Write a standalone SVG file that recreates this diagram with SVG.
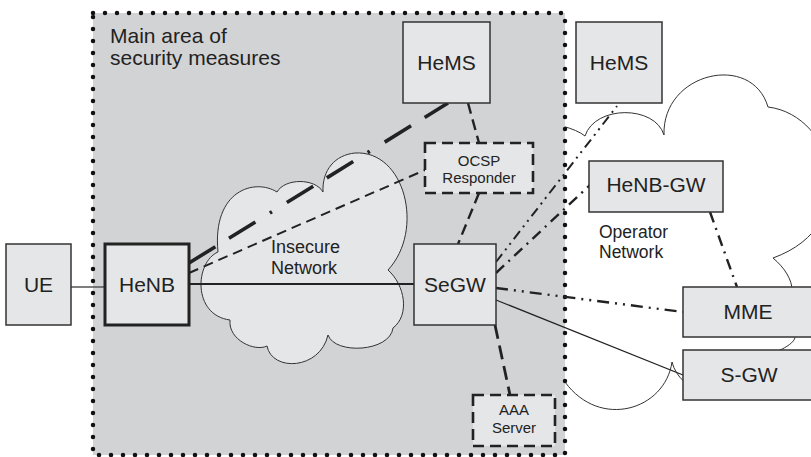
<svg xmlns="http://www.w3.org/2000/svg" width="811" height="457" viewBox="0 0 811 457">
<style>
text{font-family:"Liberation Sans",Arial,sans-serif;fill:#222}
.box{fill:#e5e6e7;stroke:#333;stroke-width:1.5}
.dbox{fill:#e5e6e7;stroke:#222;stroke-width:2.6;stroke-dasharray:11 6}
.lbl{font-size:21px;text-anchor:middle}
.sm{font-size:15px;text-anchor:middle}
.cloud{stroke:#333;stroke-width:1;stroke-linejoin:round}
.c{fill:none;stroke:#222}
</style>
<!-- operator network cloud (behind) -->
<path class="cloud" fill="#fff" d="M540,125 C552,122 575,128 585,136 C595,105 655,105 664,135 C662,72 752,52 768,107 C835,115 865,225 773,258 C785,268 792,280 792,290 L795,337 C795,342 785,348 780,350 L700,390 C690,388 676,378 672,362 C665,410 600,430 565,382 L540,382 Z"/>
<!-- main security area -->
<g id="security-area">
<rect x="93" y="13" width="472" height="442" fill="#d2d3d5"/>
<rect x="93" y="13" width="472" height="442" fill="none" stroke="#111" stroke-width="4.5" stroke-linecap="round" stroke-dasharray="0 12"/>
<text x="110" y="43" style="font-size:21px">Main area of</text>
<text x="110" y="65" style="font-size:21px">security measures</text>
</g>
<g id="insecure-network">
<path class="cloud" fill="#e5e6e7" d="M218,252 C195,262 192,315 230,320 C228,340 255,352 267,346 C272,372 320,370 328,335 C335,355 390,352 393,328 C410,315 405,285 388,270 C425,230 405,150 355,153 C335,155 322,170 323,192 C315,178 285,178 277,192 C255,178 212,190 218,252 Z"/>
<text x="271" y="253" style="font-size:18px">Insecure</text>
<text x="271" y="274" style="font-size:18px">Network</text>
</g>
<g id="operator-network-label">
<text x="599" y="238" style="font-size:17.5px">Operator</text>
<text x="599" y="258" style="font-size:17.5px">Network</text>
</g>
<g id="connectors">
<line class="c" x1="71" y1="287" x2="105" y2="287" stroke-width="1.3" style="stroke:#555"/>
<line class="c" x1="189" y1="284" x2="414" y2="284" stroke-width="2.2"/>
<line class="c" x1="189" y1="263" x2="448" y2="103" stroke-width="3.6" stroke-dasharray="31 16 31 17 2.5 17.5"/>
<line class="c" x1="189" y1="273" x2="425" y2="170" stroke-width="2" stroke-dasharray="10 6"/>
<line class="c" x1="468" y1="103" x2="479" y2="143" stroke-width="2.4" stroke-dasharray="11 6"/>
<line class="c" x1="479" y1="193" x2="458" y2="244" stroke-width="2.4" stroke-dasharray="11 6"/>
<line class="c" x1="496" y1="262" x2="617" y2="106" stroke-width="2" stroke-dasharray="10 5 2 5 2 5"/>
<line class="c" x1="496" y1="273" x2="590" y2="185" stroke-width="2.4" stroke-dasharray="11 6 2 6"/>
<line class="c" x1="496" y1="288" x2="683" y2="312" stroke-width="2.4" stroke-dasharray="12 6 2 6 2 6"/>
<line class="c" x1="496" y1="300" x2="683" y2="375" stroke-width="1.3"/>
<line class="c" x1="495" y1="325" x2="510" y2="395" stroke-width="2.8" stroke-dasharray="14 7"/>
<line class="c" x1="710" y1="212" x2="737" y2="287" stroke-width="2.4" stroke-dasharray="11 6 2 6"/>
</g>
<g id="UE"><rect class="box" x="6" y="244" width="65" height="81"/><text class="lbl" x="38.5" y="292">UE</text></g>
<g id="HeNB"><rect class="box" x="105" y="244" width="84" height="81" style="stroke-width:3;stroke:#222"/><text class="lbl" x="147" y="292">HeNB</text></g>
<g id="SeGW"><rect class="box" x="414" y="244" width="82" height="81"/><text class="lbl" x="455" y="292">SeGW</text></g>
<g id="HeMS-inner"><rect class="box" x="403" y="22" width="87" height="81"/><text class="lbl" x="446.5" y="70">HeMS</text></g>
<g id="HeMS-outer"><rect class="box" x="576" y="22" width="86" height="81"/><text class="lbl" x="619" y="70">HeMS</text></g>
<g id="OCSP"><rect class="dbox" x="425" y="143" width="108" height="50"/><text class="sm" x="479" y="166">OCSP</text><text class="sm" x="479" y="183">Responder</text></g>
<g id="AAA"><rect class="dbox" x="473" y="395" width="82" height="51"/><text class="sm" x="514" y="415">AAA</text><text class="sm" x="514" y="433">Server</text></g>
<g id="HeNB-GW"><rect class="box" x="589" y="161" width="134" height="51"/><text class="lbl" x="656" y="192">HeNB-GW</text></g>
<g id="MME"><rect class="box" x="683" y="287" width="140" height="50"/><text class="lbl" x="748" y="319">MME</text></g>
<g id="S-GW"><rect class="box" x="683" y="350" width="140" height="50"/><text class="lbl" x="749" y="382">S-GW</text></g>
</svg>
